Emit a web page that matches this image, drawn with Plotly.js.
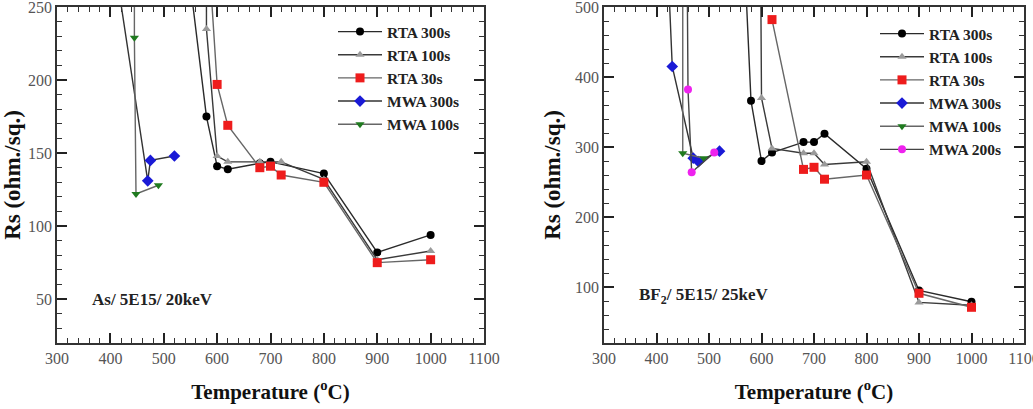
<!DOCTYPE html>
<html>
<head>
<meta charset="utf-8">
<script src="https://cdn.plot.ly/plotly-3.0.1.min.js"></script>
<style>html,body{margin:0;padding:0;background:#fff;}#chart{width:1033px;height:409px;}</style>
</head>
<body>
<div id="chart"></div>
<script>
// ---- Left panel (As / 5E15 / 20keV) ----
const L_RTA300_T = [550, 580, 600, 620, 680, 700, 800, 900, 1000];
const L_RTA300_V = [265, 175, 141, 139, 143, 144, 136, 82, 94];
const L_RTA100_T = [580, 580, 600, 620, 680, 720, 800, 900, 1000];
const L_RTA100_V = [400, 235, 148, 144, 144, 144, 132, 77, 83];
const L_RTA30_T = [580, 600, 620, 680, 700, 720, 800, 900, 1000];
const L_RTA30_V = [310, 197, 169, 140, 141, 135, 130, 75, 77];
const L_MWA300_T = [400, 470, 475, 520];
const L_MWA300_V = [300, 131, 145, 148];
const L_MWA100_T = [445, 445, 448, 490];
const L_MWA100_V = [400, 229, 122, 128];

// ---- Right panel (BF2 / 5E15 / 25keV) ----
const R_RTA300_T = [570, 580, 600, 620, 680, 700, 720, 800, 900, 1000];
const R_RTA300_V = [530, 366, 280, 292, 307, 307, 319, 269, 95, 79];
const R_RTA100_T = [598, 600, 620, 680, 700, 720, 800, 900, 1000];
const R_RTA100_V = [600, 370, 298, 291, 291, 275, 279, 78, 74];
const R_RTA30_T = [620, 680, 700, 720, 800, 900, 1000];
const R_RTA30_V = [482, 268, 271, 254, 260, 91, 71];
const R_MWA300_T = [420, 430, 470, 480, 520];
const R_MWA300_V = [590, 415, 284, 279, 294];
const R_MWA100_T = [450, 450, 490];
const R_MWA100_V = [600, 291, 284];
const R_MWA200_T = [458, 460, 467, 510];
const R_MWA200_V = [600, 382, 264, 292];

const NAMES = ['RTA 300s', 'RTA 100s', 'RTA 30s', 'MWA 300s', 'MWA 100s', 'MWA 200s'];
const X_TICKS = [300, 400, 500, 600, 700, 800, 900, 1000, 1100];
const L_Y_TICKS = [50, 100, 150, 200, 250];
const R_Y_TICKS = [100, 200, 300, 400, 500];

const STY = {
  'RTA 300s': {line: '#2a2a2a', marker: {symbol: 'circle', color: '#000000', size: 8}},
  'RTA 100s': {line: '#3a3a3a', marker: {symbol: 'triangle-up', color: '#9a9a9a', size: 8}},
  'RTA 30s':  {line: '#666666', marker: {symbol: 'square', color: '#ee1c1c', size: 9}},
  'MWA 300s': {line: '#333333', marker: {symbol: 'diamond', color: '#1a1ad6', size: 9}},
  'MWA 100s': {line: '#666666', marker: {symbol: 'triangle-down', color: '#1f7a1f', size: 8}},
  'MWA 200s': {line: '#444444', marker: {symbol: 'circle', color: '#ee22ee', size: 8}}
};

function tr(name, xs, ys, xa, ya, leg) {
  const s = STY[name];
  return {
    type: 'scatter', mode: 'lines+markers', name: name,
    x: xs, y: ys, xaxis: xa, yaxis: ya, legend: leg,
    line: {color: s.line, width: 1.4},
    marker: s.marker
  };
}

const data = [
  tr(NAMES[0], L_RTA300_T, L_RTA300_V, 'x', 'y', 'legend'),
  tr(NAMES[1], L_RTA100_T, L_RTA100_V, 'x', 'y', 'legend'),
  tr(NAMES[2], L_RTA30_T, L_RTA30_V, 'x', 'y', 'legend'),
  tr(NAMES[3], L_MWA300_T, L_MWA300_V, 'x', 'y', 'legend'),
  tr(NAMES[4], L_MWA100_T, L_MWA100_V, 'x', 'y', 'legend'),
  tr(NAMES[0], R_RTA300_T, R_RTA300_V, 'x2', 'y2', 'legend2'),
  tr(NAMES[1], R_RTA100_T, R_RTA100_V, 'x2', 'y2', 'legend2'),
  tr(NAMES[2], R_RTA30_T, R_RTA30_V, 'x2', 'y2', 'legend2'),
  tr(NAMES[3], R_MWA300_T, R_MWA300_V, 'x2', 'y2', 'legend2'),
  tr(NAMES[4], R_MWA100_T, R_MWA100_V, 'x2', 'y2', 'legend2'),
  tr(NAMES[5], R_MWA200_T, R_MWA200_V, 'x2', 'y2', 'legend2')
];

const SERIF = 'Liberation Serif, Times New Roman, serif';
const tickFont = {family: SERIF, size: 16, color: '#555'};

function tickCfg(ticks, minorStep) {
  return {
    tickmode: 'linear', tick0: ticks[0], dtick: ticks[1] - ticks[0],
    ticks: 'inside', ticklen: 10, tickwidth: 1.5, tickcolor: '#222',
    minor: {dtick: minorStep, ticks: 'inside', ticklen: 5, tickwidth: 1.1, tickcolor: '#333', showgrid: false},
    showline: true, linecolor: '#333', linewidth: 1.5, mirror: 'allticks',
    showgrid: false, zeroline: false, tickfont: tickFont,
    ticklabeloverflow: 'allow',
    layer: 'above traces'
  };
}

function xax(domain, anchor) {
  return Object.assign(tickCfg(X_TICKS, 20), {
    domain: domain, anchor: anchor, range: [X_TICKS[0], X_TICKS[X_TICKS.length - 1]],
    title: {text: 'Temperature (<sup>o</sup>C)', font: {family: SERIF, size: 21, color: '#111', weight: 'bold'}, standoff: 18}
  });
}
function yax(domain, anchor, range, ticks, minorStep) {
  return Object.assign(tickCfg(ticks, minorStep), {
    domain: domain, anchor: anchor, range: range,
    title: {text: 'Rs (ohm./sq.)', font: {family: SERIF, size: 23, color: '#111', weight: 'bold'}, standoff: 8}
  });
}

const YDOM = [1 - 343 / 409, 1 - 7 / 409];
const legFont = {family: SERIF, size: 15.5, color: '#222', weight: 'bold'};

const layout = {
  width: 1033, height: 409,
  margin: {l: 0, r: 0, t: 0, b: 0},
  paper_bgcolor: '#ffffff', plot_bgcolor: '#ffffff',
  showlegend: true,
  xaxis: xax([57 / 1033, 484 / 1033], 'y'),
  yaxis: yax(YDOM, 'x', [20, 250], L_Y_TICKS, 10),
  xaxis2: xax([604 / 1033, 1024 / 1033], 'y2'),
  yaxis2: yax(YDOM, 'x2', [20, 500], R_Y_TICKS, 20),
  legend: {x: 333 / 1033, xanchor: 'left', y: 1 - 15 / 409, yanchor: 'top', itemwidth: 44,
           bgcolor: 'rgba(0,0,0,0)', font: legFont, tracegroupgap: 0},
  legend2: {x: 875 / 1033, xanchor: 'left', y: 1 - 17 / 409, yanchor: 'top', itemwidth: 44,
            bgcolor: 'rgba(0,0,0,0)', font: legFont, tracegroupgap: 0},
  annotations: [
    {text: 'As/ 5E15/ 20keV', xref: 'paper', yref: 'paper', x: 90 / 1033, y: 1 - 299 / 409,
     xanchor: 'left', yanchor: 'middle', showarrow: false,
     font: {family: SERIF, size: 17, color: '#222', weight: 'bold'}},
    {text: 'BF<sub>2</sub>/ 5E15/ 25keV', xref: 'paper', yref: 'paper', x: 637 / 1033, y: 1 - 296 / 409,
     xanchor: 'left', yanchor: 'middle', showarrow: false,
     font: {family: SERIF, size: 17, color: '#222', weight: 'bold'}}
  ]
};

Plotly.newPlot('chart', data, layout, {displayModeBar: false, responsive: false});
</script>
</body>
</html>
